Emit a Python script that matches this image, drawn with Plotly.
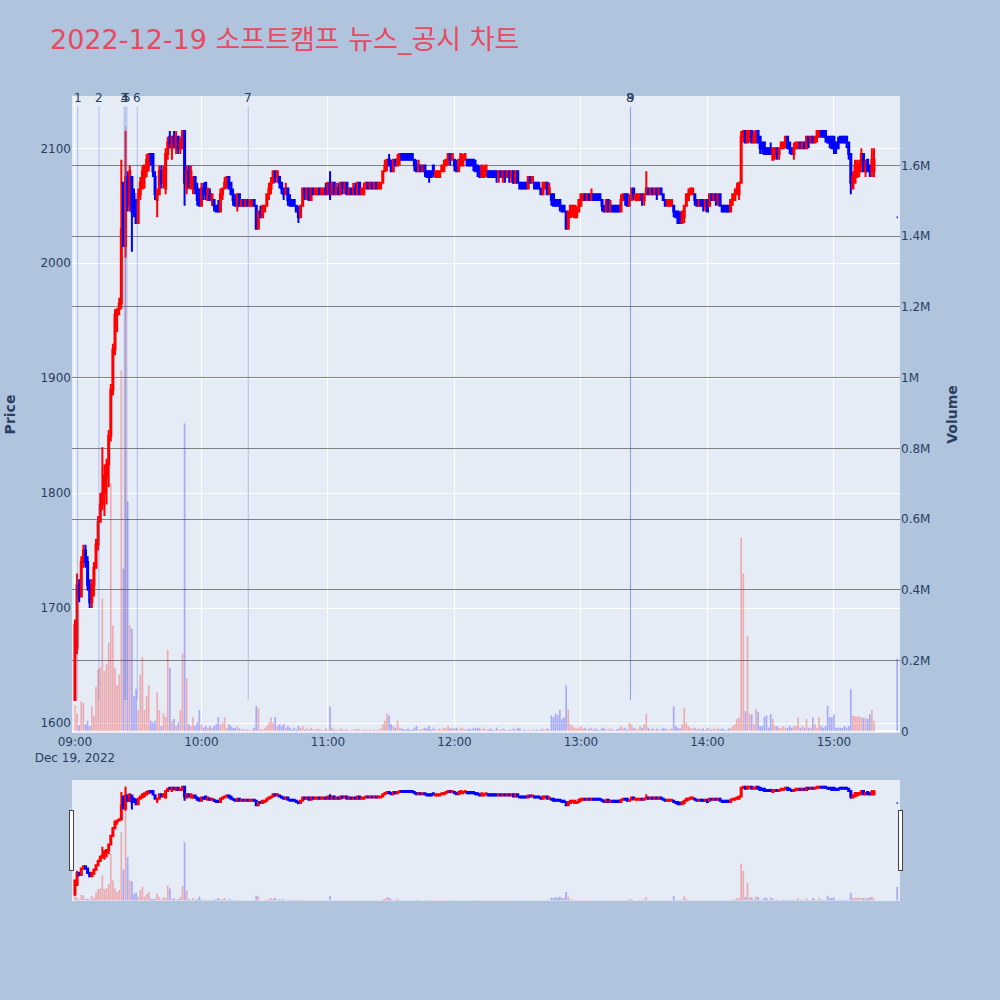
import pandas as pd
import plotly.graph_objects as go
from plotly.subplots import make_subplots

# ---- minute bars 09:00 .. 15:19, plus the 15:30 closing print ----
minute_times = list(pd.date_range("2022-12-19 09:00", periods=380, freq="min")) + [pd.Timestamp("2022-12-19 15:30")]

opens = [
    1620,1665,1720,1710,1740,1750,1740,1720,1705,1720,
    1735,1755,1775,1790,1800,1815,1825,1850,1890,1925,
    1955,1960,1965,2070,2015,2075,2050,2075,2060,2055,
    2035,2060,2065,2075,2080,2085,2095,2095,2075,2055,
    2060,2080,2070,2065,2095,2110,2100,2110,2100,2110,
    2100,2100,2115,2065,2080,2065,2070,2075,2065,2060,
    2050,2065,2070,2055,2060,2055,2055,2050,2050,2045,
    2060,2065,2070,2075,2070,2060,2055,2050,2060,2050,
    2055,2050,2055,2050,2050,2055,2050,2030,2045,2040,
    2045,2050,2060,2065,2070,2080,2075,2075,2070,2065,
    2060,2065,2055,2055,2055,2050,2045,2040,2050,2065,
    2060,2065,2055,2065,2060,2060,2065,2060,2060,2065,
    2060,2070,2060,2070,2060,2065,2060,2070,2065,2070,
    2060,2065,2060,2065,2060,2070,2060,2060,2065,2070,
    2065,2070,2065,2070,2065,2065,2070,2080,2085,2090,
    2085,2080,2090,2085,2090,2095,2095,2095,2095,2095,
    2095,2090,2085,2080,2085,2080,2085,2080,2080,2080,
    2085,2075,2075,2075,2080,2080,2085,2090,2095,2090,
    2090,2085,2080,2085,2085,2090,2090,2090,2090,2090,
    2085,2085,2080,2075,2075,2080,2080,2080,2080,2080,
    2080,2075,2080,2075,2080,2075,2080,2075,2080,2070,
    2080,2070,2070,2070,2070,2065,2075,2070,2070,2070,
    2070,2065,2060,2065,2070,2060,2060,2060,2055,2055,
    2055,2050,2050,2045,2030,2040,2045,2040,2040,2045,
    2050,2055,2060,2055,2060,2055,2060,2060,2060,2060,
    2055,2050,2045,2055,2045,2050,2050,2050,2050,2045,
    2055,2060,2060,2050,2055,2065,2055,2055,2055,2060,
    2055,2060,2065,2060,2065,2060,2065,2060,2065,2060,
    2055,2050,2050,2050,2050,2045,2045,2040,2035,2040,
    2050,2055,2060,2060,2060,2055,2050,2055,2055,2050,
    2055,2050,2060,2055,2060,2055,2060,2050,2050,2050,
    2050,2045,2055,2055,2060,2060,2070,2110,2115,2105,
    2110,2115,2105,2105,2115,2110,2105,2105,2100,2100,
    2100,2090,2095,2100,2095,2100,2100,2105,2110,2105,
    2100,2095,2100,2100,2105,2100,2105,2100,2110,2105,
    2110,2105,2110,2110,2115,2115,2115,2110,2110,2110,
    2110,2105,2105,2110,2110,2110,2110,2105,2095,2065,
    2070,2075,2080,2080,2095,2080,2090,2085,2080,2080,
    2040,
]

highs = [
    1690,1730,1725,1745,1755,1755,1745,1725,1725,1740,
    1760,1780,1800,1840,1825,1830,1855,1895,1930,1960,
    1960,1970,2090,2070,2115,2080,2085,2075,2065,2055,
    2065,2075,2085,2085,2095,2095,2095,2095,2080,2065,
    2085,2085,2085,2100,2110,2115,2110,2115,2115,2110,
    2110,2115,2115,2085,2085,2085,2075,2075,2070,2065,
    2070,2070,2070,2065,2065,2060,2055,2050,2055,2065,
    2065,2075,2075,2075,2070,2065,2060,2060,2060,2055,
    2055,2055,2055,2055,2055,2055,2050,2045,2050,2050,
    2050,2060,2070,2075,2080,2080,2080,2075,2070,2065,
    2070,2065,2060,2055,2055,2050,2050,2050,2065,2065,
    2065,2065,2065,2065,2065,2065,2065,2065,2065,2070,
    2070,2080,2070,2070,2070,2070,2070,2070,2070,2070,
    2065,2065,2070,2070,2070,2070,2065,2070,2070,2070,
    2070,2070,2070,2070,2070,2070,2080,2090,2090,2095,
    2090,2090,2090,2095,2095,2095,2095,2095,2095,2095,
    2095,2090,2090,2090,2085,2085,2085,2080,2080,2080,
    2085,2080,2080,2080,2085,2090,2090,2095,2095,2095,
    2090,2090,2090,2095,2095,2095,2090,2090,2090,2090,
    2090,2085,2085,2085,2085,2085,2080,2080,2080,2080,
    2080,2080,2080,2080,2080,2080,2080,2080,2080,2080,
    2080,2070,2070,2070,2070,2075,2075,2075,2070,2070,
    2070,2065,2070,2070,2070,2070,2060,2060,2055,2055,
    2055,2050,2050,2045,2045,2050,2050,2050,2050,2055,
    2060,2060,2060,2060,2060,2065,2060,2060,2060,2060,
    2055,2050,2055,2055,2055,2050,2050,2050,2050,2060,
    2060,2060,2060,2060,2065,2065,2060,2060,2060,2060,
    2060,2080,2065,2065,2065,2065,2065,2065,2065,2060,
    2055,2055,2055,2055,2050,2045,2045,2045,2045,2050,
    2060,2065,2065,2065,2060,2055,2055,2055,2055,2055,
    2055,2060,2060,2060,2060,2060,2060,2050,2050,2050,
    2050,2055,2060,2065,2070,2070,2115,2115,2115,2115,
    2115,2115,2115,2115,2115,2110,2105,2105,2100,2100,
    2105,2100,2100,2100,2100,2105,2105,2110,2110,2105,
    2100,2105,2105,2105,2105,2105,2105,2110,2110,2110,
    2110,2110,2115,2115,2115,2115,2115,2110,2110,2110,
    2110,2105,2110,2110,2110,2110,2110,2105,2095,2080,
    2090,2090,2090,2100,2095,2090,2090,2085,2100,2100,
    2040,
]

lows = [
    1620,1660,1705,1710,1735,1735,1715,1700,1700,1710,
    1735,1750,1775,1785,1780,1790,1805,1845,1885,1920,
    1940,1955,1960,2015,2005,2045,2045,2010,2040,2035,
    2035,2055,2065,2065,2075,2080,2085,2075,2055,2040,
    2060,2065,2065,2060,2090,2100,2090,2100,2095,2095,
    2095,2100,2050,2060,2065,2065,2060,2060,2050,2050,
    2050,2055,2055,2055,2055,2050,2045,2045,2045,2045,
    2055,2065,2065,2065,2060,2050,2050,2045,2050,2050,
    2050,2050,2050,2050,2050,2050,2030,2030,2040,2040,
    2045,2050,2055,2060,2070,2070,2070,2065,2060,2055,
    2060,2050,2050,2050,2050,2045,2035,2040,2050,2055,
    2055,2055,2055,2060,2060,2060,2060,2060,2060,2060,
    2060,2055,2060,2060,2060,2060,2060,2060,2060,2060,
    2060,2060,2060,2060,2060,2060,2060,2060,2065,2065,
    2065,2065,2065,2065,2065,2065,2070,2080,2080,2085,
    2080,2080,2085,2085,2085,2090,2090,2090,2090,2090,
    2090,2080,2080,2080,2080,2080,2075,2075,2070,2075,
    2075,2075,2075,2075,2080,2080,2085,2085,2085,2090,
    2080,2080,2080,2085,2085,2090,2085,2085,2085,2080,
    2080,2075,2075,2075,2075,2075,2075,2075,2075,2075,
    2070,2070,2075,2070,2070,2075,2070,2070,2070,2070,
    2070,2065,2065,2065,2065,2065,2070,2070,2065,2065,
    2065,2060,2060,2065,2060,2060,2050,2050,2050,2050,
    2045,2045,2045,2030,2030,2040,2040,2040,2040,2045,
    2050,2055,2055,2055,2055,2055,2055,2055,2055,2055,
    2045,2045,2045,2045,2045,2045,2045,2045,2045,2045,
    2055,2050,2050,2050,2055,2055,2055,2055,2055,2050,
    2050,2060,2060,2060,2060,2060,2055,2060,2060,2055,
    2050,2050,2050,2050,2040,2040,2035,2035,2035,2035,
    2050,2055,2060,2060,2050,2050,2050,2050,2045,2045,
    2045,2050,2055,2055,2050,2050,2050,2045,2045,2045,
    2045,2045,2050,2055,2060,2055,2070,2105,2105,2105,
    2105,2105,2105,2105,2105,2095,2095,2095,2095,2095,
    2095,2090,2090,2090,2090,2100,2100,2100,2100,2095,
    2095,2090,2100,2100,2100,2100,2100,2100,2100,2105,
    2105,2105,2105,2110,2110,2110,2105,2105,2100,2100,
    2095,2095,2100,2105,2105,2105,2100,2090,2060,2065,
    2070,2075,2075,2080,2080,2075,2080,2075,2075,2075,
    2040,
]

closes = [
    1685,1720,1710,1740,1750,1740,1720,1705,1720,1735,
    1755,1775,1790,1800,1815,1825,1850,1890,1925,1955,
    1960,1965,2030,2015,2075,2050,2080,2045,2045,2035,
    2060,2070,2080,2085,2090,2095,2090,2080,2060,2060,
    2080,2070,2080,2095,2105,2105,2110,2105,2110,2100,
    2105,2115,2070,2080,2070,2080,2075,2065,2055,2050,
    2065,2060,2060,2065,2055,2060,2050,2045,2045,2060,
    2065,2070,2075,2065,2060,2055,2050,2060,2050,2055,
    2050,2055,2050,2055,2055,2050,2030,2045,2040,2050,
    2050,2060,2065,2070,2080,2075,2080,2070,2065,2060,
    2065,2055,2050,2050,2050,2045,2040,2050,2065,2060,
    2065,2055,2065,2060,2065,2065,2060,2065,2065,2060,
    2070,2060,2070,2060,2065,2060,2070,2065,2070,2060,
    2065,2060,2065,2060,2070,2060,2065,2065,2070,2065,
    2070,2065,2070,2065,2070,2070,2080,2085,2090,2085,
    2080,2090,2085,2090,2095,2090,2090,2090,2090,2090,
    2090,2085,2080,2085,2080,2085,2080,2075,2075,2075,
    2080,2080,2080,2080,2085,2085,2090,2095,2090,2095,
    2085,2080,2090,2095,2090,2095,2085,2085,2085,2085,
    2080,2080,2075,2085,2080,2085,2075,2075,2075,2075,
    2075,2080,2075,2080,2075,2080,2075,2080,2070,2080,
    2070,2065,2065,2065,2065,2075,2070,2075,2065,2065,
    2065,2060,2070,2070,2060,2065,2055,2050,2050,2050,
    2050,2045,2045,2030,2045,2050,2050,2050,2045,2055,
    2060,2060,2055,2060,2055,2060,2055,2055,2055,2055,
    2050,2045,2055,2045,2050,2045,2045,2045,2045,2055,
    2060,2055,2050,2055,2065,2060,2060,2060,2060,2055,
    2060,2065,2060,2065,2060,2065,2060,2065,2060,2055,
    2050,2055,2055,2055,2045,2040,2035,2035,2045,2050,
    2060,2060,2065,2065,2055,2050,2055,2050,2050,2055,
    2045,2060,2055,2060,2055,2060,2050,2045,2045,2045,
    2045,2055,2060,2060,2065,2070,2110,2115,2105,2115,
    2115,2105,2110,2115,2105,2100,2100,2095,2095,2095,
    2095,2100,2100,2095,2100,2105,2105,2110,2100,2100,
    2095,2100,2105,2105,2100,2105,2100,2110,2105,2110,
    2105,2110,2115,2115,2110,2110,2110,2105,2105,2100,
    2100,2100,2100,2105,2105,2105,2105,2095,2070,2075,
    2085,2080,2085,2095,2080,2085,2080,2080,2090,2090,
    2040,
]

# volume in thousands of shares
volume_k = [
    75,50,17,85,80,20,30,15,70,45,
    125,175,180,375,170,190,250,700,300,180,
    130,160,1020,460,1710,650,300,290,100,120,
    60,160,210,60,100,130,30,25,30,110,
    60,15,50,40,230,180,30,35,15,25,
    60,220,870,150,20,15,40,15,25,60,
    20,10,15,10,15,10,15,20,40,20,
    25,40,10,20,15,10,10,15,8,5,
    5,5,5,3,5,10,72,65,5,5,
    8,15,25,40,25,40,15,20,15,20,
    10,15,10,5,10,5,15,10,15,5,
    8,5,10,5,5,8,5,5,3,8,
    5,70,10,5,5,3,8,5,5,5,
    3,3,5,5,8,5,3,5,5,3,
    5,3,5,3,5,8,20,30,50,45,
    20,15,10,30,10,8,5,5,8,5,
    5,10,15,5,5,8,10,8,15,5,
    10,5,5,8,5,10,8,15,8,10,
    8,10,5,10,8,5,5,8,5,10,
    8,10,8,5,10,5,5,8,5,3,
    10,5,5,8,5,3,5,5,8,5,
    10,8,3,5,3,5,3,5,3,5,
    3,5,8,5,8,5,45,40,50,45,
    60,35,40,130,60,20,15,10,8,10,
    15,8,10,5,8,10,5,8,5,3,
    10,8,5,5,8,5,3,5,8,15,
    8,10,5,25,20,10,8,5,15,10,
    20,50,10,5,8,5,8,5,5,10,
    8,5,5,8,70,15,10,8,20,65,
    25,15,10,8,10,5,8,5,8,5,
    10,8,5,8,5,10,5,8,5,3,
    8,10,15,20,35,40,548,446,57,270,
    50,47,20,64,55,15,15,40,45,10,
    48,35,15,15,10,10,15,10,10,15,
    10,15,15,40,10,15,10,35,10,10,
    40,20,10,40,15,10,15,72,40,40,
    48,10,10,10,10,15,10,15,119,45,
    43,42,42,40,38,37,35,48,60,30,
    205,
]
volumes = [v * 1000 for v in volume_k]

# news / disclosure events
news_times = [
    "2022-12-19 09:01:16", "2022-12-19 09:11:23", "2022-12-19 09:23:23",
    "2022-12-19 09:23:57", "2022-12-19 09:24:40", "2022-12-19 09:29:33",
    "2022-12-19 10:22:12", "2022-12-19 13:23:28", "2022-12-19 13:23:33",
]
news_labels = ["1", "2", "3", "4", "5", "6", "7", "8", "9"]

# direction of each bar (same rule plotly uses for candles)
directions = []
prev_close = None
for o, c in zip(opens, closes):
    if c == o:
        inc = directions[-1] if directions else True
        if prev_close is not None and c != prev_close:
            inc = c > prev_close
    else:
        inc = c > o
    directions.append(inc)
    prev_close = c
vol_colors = ["rgba(255,0,0,0.28)" if d else "rgba(0,0,255,0.28)" for d in directions]

FONT = "DejaVu Sans, Noto Sans CJK KR, sans-serif"

fig = make_subplots(specs=[[{"secondary_y": True}]])

fig.add_trace(
    go.Candlestick(
        x=minute_times, open=opens, high=highs, low=lows, close=closes,
        increasing=dict(line=dict(color="red"), fillcolor="red"),
        decreasing=dict(line=dict(color="blue"), fillcolor="blue"),
        name="Price", showlegend=False,
    ),
    secondary_y=False,
)
fig.add_trace(
    go.Bar(x=minute_times, y=volumes, marker=dict(color=vol_colors, line=dict(width=0)),
           name="Volume", showlegend=False),
    secondary_y=True,
)

low_min = min(lows)
line_top = max(highs) * 1.01
for t, lab in zip(news_times, news_labels):
    fig.add_shape(type="line", xref="x", yref="y", x0=t, x1=t, y0=low_min, y1=line_top,
                  line=dict(color="rgba(65,105,225,0.35)", width=1))
    fig.add_annotation(x=t, y=line_top, xref="x", yref="y", text=lab, showarrow=False,
                       yanchor="bottom", font=dict(size=12, color="#2a3f5f"))

x_range = ["2022-12-19 08:58:36", "2022-12-19 15:31:20"]

fig.update_layout(
    width=1000, height=1000,
    font=dict(family=FONT),
    paper_bgcolor="#B0C4DE",
    plot_bgcolor="#E5ECF6",
    margin=dict(l=72, r=100, t=96, b=100),
    title=dict(text="2022-12-19 소프트캠프 뉴스_공시 차트", x=0.05, xanchor="left",
               y=0.96, yanchor="middle",
               font=dict(size=27, color="#E84A5F", family=FONT)),
    showlegend=False,
    bargap=0.2,
)
fig.update_xaxes(
    domain=[0, 1], range=x_range, showgrid=True,
    rangeslider=dict(visible=True, bgcolor="#E5ECF6", range=x_range),
)
fig.update_yaxes(title=dict(text="<b>Price</b>", standoff=21), range=[1591.3, 2145.5], dtick=100,
                 gridcolor="white", automargin=False, secondary_y=False)
fig.update_yaxes(title=dict(text="<b>Volume</b>", standoff=17), range=[-4800, 1796000], dtick=200000,
                 gridcolor="gray", zerolinecolor="white", showgrid=True,
                 automargin=False, secondary_y=True)

fig.write_html("out.html", config={"displayModeBar": False},
               post_script="document.body.style.margin='0';")
